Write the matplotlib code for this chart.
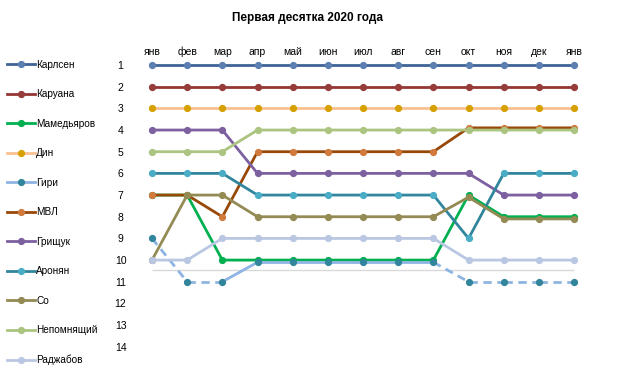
import numpy as np
import matplotlib
matplotlib.use("Agg")
import matplotlib.pyplot as plt

plt.rcParams['font.family'] = ['Liberation Sans', 'DejaVu Sans']

months = ["янв", "фев", "мар", "апр", "май", "июн", "июл",
          "авг", "сен", "окт", "ноя", "дек", "янв"]
ranks = list(range(1, 15))

carlsen = [1, 1, 1, 1, 1, 1, 1, 1, 1, 1, 1, 1, 1]
caruana = [2, 2, 2, 2, 2, 2, 2, 2, 2, 2, 2, 2, 2]
mamedyarov = [7, 7, 10, 10, 10, 10, 10, 10, 10, 7, 8, 8, 8]
ding = [3, 3, 3, 3, 3, 3, 3, 3, 3, 3, 3, 3, 3]
giri = [9, 11, 11, 10.1, 10.1, 10.1, 10.1, 10.1, 10.1, 11, 11, 11, 11]
giri_dashed = [1, 1, 0, 0, 0, 0, 0, 0, 1, 1, 1, 1]  # per segment
mvl = [7, 7, 8, 5, 5, 5, 5, 5, 5, 3.9, 3.9, 3.9, 3.9]
grischuk = [4, 4, 4, 6, 6, 6, 6, 6, 6, 6, 7, 7, 7]
aronian = [6, 6, 6, 7, 7, 7, 7, 7, 7, 9, 6, 6, 6]
so = [10, 7, 7, 8, 8, 8, 8, 8, 8, 7.1, 8.1, 8.1, 8.1]
nepo = [5, 5, 5, 4, 4, 4, 4, 4, 4, 4, 4, 4, 4]
radjabov = [10, 10, 9, 9, 9, 9, 9, 9, 9, 10, 10, 10, 10]

players = ["Карлсен", "Каруана", "Мамедьяров", "Дин", "Гири", "МВЛ",
           "Грищук", "Аронян", "Со", "Непомнящий", "Раджабов"]
series = [carlsen, caruana, mamedyarov, ding, giri, mvl,
          grischuk, aronian, so, nepo, radjabov]
line_colors = ["#3F6496", "#943634", "#00B050", "#FAC090", "#8DB4E2", "#984807",
               "#7D60A0", "#31859C", "#948A54", "#ABC580", "#B9C7E2"]
marker_colors = ["#5A7FB0", "#963C3B", "#00B050", "#D6A000", "#31859C", "#D07A3E",
                 "#7D60A0", "#4BACC6", "#948A54", "#ABC580", "#B9C7E2"]

fig = plt.figure(figsize=(6.19, 3.77), dpi=100)
ax = fig.add_axes([0.2262, 0.0451, 0.727, 0.801])

x = np.arange(len(months))
ax.hlines(10.45, x[0], x[-1], color="#D9D9D9", lw=1, zorder=1)

for name, vals, lc, mc in zip(players, series, line_colors, marker_colors):
    if name == "Гири":
        for i in range(len(vals) - 1):
            ax.plot(x[i:i + 2], vals[i:i + 2], color=lc, lw=2,
                    ls=(0, (3, 2)) if giri_dashed[i] else "-", zorder=2)
        ax.plot(x, vals, ls="none", marker="o", ms=4.2, color=mc, zorder=3)
        ax.plot([], [], color=lc, lw=2, marker="o", ms=4.2,
                mfc=mc, mec=mc, label=name)
    else:
        ax.plot(x, vals, color=lc, lw=2, marker="o", ms=4.2,
                mfc=mc, mec=mc, label=name, zorder=2)

ax.set_xlim(-0.341, 12.454)
ax.set_ylim(14.61, 0.677)
ax.xaxis.tick_top()
ax.set_xticks(x)
ax.set_xticklabels(months, fontsize=7.5)
ax.set_yticks(ranks)
ax.set_yticklabels(ranks, fontsize=7.5)
for t in ax.get_yticklabels():
    t.set_ha("center")
ax.tick_params(axis="x", length=0, pad=0.5)
ax.tick_params(axis="y", length=0, pad=14)
for s in ax.spines.values():
    s.set_visible(False)

fig.text(0.496, 0.952, "Первая десятка 2020 года", ha="center", va="center",
         fontsize=8.5, fontweight="bold")

fig.legend(loc="upper left", bbox_to_anchor=(0.011, 0.842), frameon=False,
           fontsize=7.2, labelspacing=1.95, handlelength=2.8, handletextpad=0.15,
           borderpad=0, borderaxespad=0)

fig.savefig("out.png", dpi=100)
